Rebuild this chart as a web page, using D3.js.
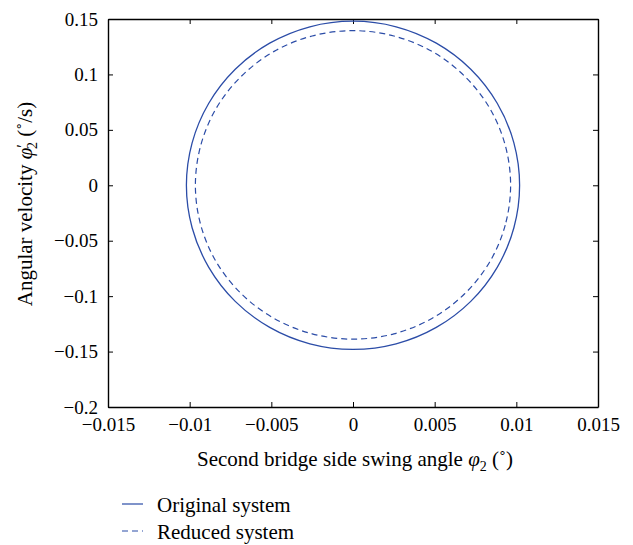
<!DOCTYPE html>
<head>
<meta charset="utf-8">
<script src="https://d3js.org/d3.v7.min.js"></script>
<style>
  body { margin: 0; background: #fff; }
  svg text { font-family: "Liberation Serif", "Times New Roman", serif; fill: #000; }
  .axis path, .axis line { stroke: #000; }
</style>
</head>
<body>
<svg id="chart" width="633" height="545"></svg>
<script>
// tick values
const xTicks = [-0.015, -0.01, -0.005, 0, 0.005, 0.01, 0.015];
const yTicks = [-0.2, -0.15, -0.1, -0.05, 0, 0.05, 0.1, 0.15];

// phase trajectories (closed loops, clockwise)
const origX = [0.0102, 0.00985, 0.00883, 0.00721, 0.0051, 0.00264, 0, -0.00264, -0.0051, -0.00721, -0.00883, -0.00985,
               -0.0102, -0.00985, -0.00883, -0.00721, -0.0051, -0.00264, 0, 0.00264, 0.0051, 0.00721, 0.00883, 0.00985];
const origY = [0, -0.0383, -0.074, -0.1047, -0.1282, -0.143, -0.148, -0.143, -0.1282, -0.1047, -0.074, -0.0383,
               0, 0.0383, 0.074, 0.1047, 0.1282, 0.143, 0.148, 0.143, 0.1282, 0.1047, 0.074, 0.0383];
const redX = [0.00965, 0.00932, 0.00836, 0.00682, 0.00483, 0.0025, 0, -0.0025, -0.00483, -0.00682, -0.00836, -0.00932,
              -0.00965, -0.00932, -0.00836, -0.00682, -0.00483, -0.0025, 0, 0.0025, 0.00483, 0.00682, 0.00836, 0.00932];
const redY = [0, -0.0359, -0.0694, -0.0981, -0.1201, -0.1340, -0.1388, -0.1340, -0.1201, -0.0981, -0.0694, -0.0359,
              0, 0.0361, 0.0698, 0.0986, 0.1208, 0.1347, 0.1395, 0.1347, 0.1208, 0.0986, 0.0698, 0.0361];

const seriesNames = ["Original system", "Reduced system"];

const svg = d3.select("#chart");
const mLeft = 108, mRight = 598, mTop = 19, mBottom = 407;
const blue = "#2b4ca7";

const x = d3.scaleLinear().domain([-0.015, 0.015]).range([mLeft, mRight]);
const y = d3.scaleLinear().domain([-0.2, 0.15]).range([mBottom, mTop]);

const fmt = d => (d < 0 ? "\u2212" : "") + String(+Math.abs(d).toFixed(3));

// axes with inward ticks
svg.append("g").attr("class", "axis")
  .attr("transform", "translate(0," + mBottom + ")")
  .call(d3.axisBottom(x).tickValues(xTicks).tickFormat(fmt).tickSize(-5).tickSizeOuter(0).tickPadding(11))
  .call(g => g.selectAll("text").attr("font-size", "19px").attr("font-family", "Liberation Serif"));
svg.append("g").attr("class", "axis")
  .attr("transform", "translate(" + mLeft + ",0)")
  .call(d3.axisLeft(y).tickValues(yTicks).tickFormat(fmt).tickSize(-5).tickSizeOuter(0).tickPadding(10))
  .call(g => g.selectAll("text").attr("font-size", "19px").attr("font-family", "Liberation Serif"));
svg.append("g").attr("class", "axis")
  .attr("transform", "translate(0," + mTop + ")")
  .call(d3.axisTop(x).tickValues(xTicks).tickFormat("").tickSize(-5).tickSizeOuter(0));
svg.append("g").attr("class", "axis")
  .attr("transform", "translate(" + mRight + ",0)")
  .call(d3.axisRight(y).tickValues(yTicks).tickFormat("").tickSize(-5).tickSizeOuter(0));
svg.selectAll(".axis path").attr("stroke-width", 1.4);

// trajectories
const line = d3.line().x(d => x(d[0])).y(d => y(d[1])).curve(d3.curveCatmullRomClosed);
const orig = d3.zip(origX, origY), red = d3.zip(redX, redY);

svg.append("path").datum(orig).attr("d", line)
  .attr("fill", "none").attr("stroke", blue).attr("stroke-width", 1.3);
svg.append("path").datum(red).attr("d", line)
  .attr("fill", "none").attr("stroke", blue).attr("stroke-width", 1.2).attr("stroke-dasharray", "6,4");

// axis titles
const xl = svg.append("text").attr("x", (mLeft + mRight) / 2 + 2).attr("y", 466)
  .attr("text-anchor", "middle").attr("font-size", "21px");
xl.append("tspan").text("Second bridge side swing angle ");
xl.append("tspan").attr("font-style", "italic").text("\u03c6");
xl.append("tspan").attr("font-size", "14px").attr("dy", 5).text("2");
xl.append("tspan").attr("dy", -5).text(" (\u02da)");

const yl = svg.append("text")
  .attr("transform", "translate(32," + 204 + ") rotate(-90)")
  .attr("text-anchor", "middle").attr("font-size", "21px");
yl.append("tspan").text("Angular velocity ");
yl.append("tspan").attr("font-style", "italic").text("\u03c6");
yl.append("tspan").attr("font-size", "17px").attr("dy", -4).text("\u2032");
yl.append("tspan").attr("font-size", "14px").attr("dx", -5).attr("dy", 9).text("2");
yl.append("tspan").attr("dy", -5).text(" (\u02da/s)");

// legend
const legend = svg.append("g");
seriesNames.forEach((name, i) => {
  const ly = 504 + i * 27;
  legend.append("line").attr("x1", 122).attr("x2", 143).attr("y1", ly).attr("y2", ly)
    .attr("stroke", blue).attr("stroke-width", 1.2)
    .attr("stroke-dasharray", i === 1 ? "6,4" : null);
  legend.append("text").attr("x", 157).attr("y", ly + 7.5)
    .attr("font-size", "21px").text(name);
});
</script>
</body>
